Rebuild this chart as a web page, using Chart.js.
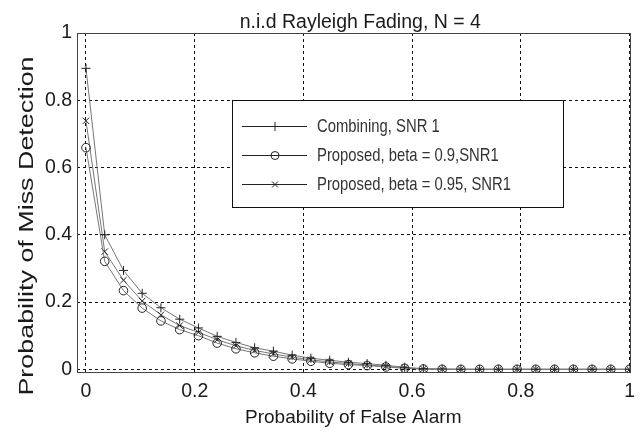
<!DOCTYPE html>
<html>
<head>
<meta charset="utf-8">
<script src="https://cdn.jsdelivr.net/npm/chart.js@4/dist/chart.umd.min.js"></script>
<style>
  html, body { margin: 0; padding: 0; background: #fff; }
  #wrap { width: 643px; height: 432px; }
</style>
</head>
<body>
<div id="wrap"><canvas id="roc" width="643" height="432"></canvas></div>
<script>
// probability of false alarm (x)
const pfa = [0, 0.0345, 0.0690, 0.1034, 0.1379, 0.1724, 0.2069, 0.2414, 0.2759, 0.3103,
             0.3448, 0.3793, 0.4138, 0.4483, 0.4828, 0.5172, 0.5517, 0.5862, 0.6207, 0.6552,
             0.6897, 0.7241, 0.7586, 0.7931, 0.8276, 0.8621, 0.8966, 0.9310, 0.9655, 1];
// probability of miss detection for each curve
const combining = [0.895, 0.400, 0.294, 0.226, 0.183, 0.149, 0.123, 0.098, 0.080, 0.064,
                   0.054, 0.042, 0.033, 0.027, 0.021, 0.017, 0.012, 0.006, 0.002, 0.001,
                   0, 0, 0, 0, 0, 0, 0, 0, 0, 0];
const beta090 = [0.659, 0.321, 0.234, 0.182, 0.144, 0.118, 0.100, 0.078, 0.061, 0.049,
                 0.039, 0.031, 0.024, 0.018, 0.014, 0.011, 0.007, 0.003, 0.001, 0,
                 0, 0, 0, 0, 0, 0, 0, 0, 0, 0];
const beta095 = [0.739, 0.350, 0.265, 0.203, 0.162, 0.130, 0.110, 0.088, 0.070, 0.056,
                 0.046, 0.036, 0.028, 0.022, 0.017, 0.013, 0.009, 0.004, 0.001, 0,
                 0, 0, 0, 0, 0, 0, 0, 0, 0, 0];
const xTicks = [0, 0.2, 0.4, 0.6, 0.8, 1];
const yTicks = [0, 0.2, 0.4, 0.6, 0.8, 1];
const seriesNames = ['Combining, SNR 1', 'Proposed, beta = 0.9,SNR1', 'Proposed, beta = 0.95, SNR1'];
const chartTitle = 'n.i.d Rayleigh Fading, N = 4';
const xTitle = 'Probability of False Alarm';
const yTitle = 'Probability of Miss Detection';

const FONT = '"Liberation Sans", Arial, Helvetica, sans-serif';
const INK = '#1a1a1a';

function pts(ys) {
    return pfa.map((x, i) => ({ x: x, y: ys[i] }));
}

// little marker painter, used only for the legend samples
function marker(ctx, style, x, y) {
    ctx.beginPath();
    if (style === 'cross') {
        ctx.moveTo(x - 4.5, y); ctx.lineTo(x + 4.5, y);
        ctx.moveTo(x, y - 4.5); ctx.lineTo(x, y + 4.5);
    } else if (style === 'crossRot') {
        ctx.moveTo(x - 3, y - 3); ctx.lineTo(x + 3, y + 3);
        ctx.moveTo(x - 3, y + 3); ctx.lineTo(x + 3, y - 3);
    } else {
        ctx.arc(x, y, 4, 0, Math.PI * 2);
    }
    ctx.stroke();
}

const frame = {
    id: 'frame',
    afterDatasetsDraw(chart) {
        const { ctx, chartArea: a } = chart;
        ctx.save();
        ctx.strokeStyle = '#444';
        ctx.lineWidth = 1;
        ctx.strokeRect(Math.round(a.left) + 0.5, Math.round(a.top) + 0.5,
                       Math.round(a.right - a.left), Math.round(a.bottom - a.top));
        ctx.restore();
    }
};

const texts = {
    id: 'texts',
    afterDraw(chart) {
        const { ctx, chartArea: a } = chart;
        ctx.save();
        ctx.fillStyle = INK;
        ctx.font = '19.5px ' + FONT;
        ctx.textAlign = 'center';
        ctx.textBaseline = 'alphabetic';
        ctx.fillText(chartTitle, (a.left + a.right) / 2 + 7, 28);

        // y title, stretched along its length like the original
        ctx.translate(27, 226);
        ctx.rotate(-Math.PI / 2);
        ctx.scale(1.28, 1);
        ctx.font = '21px ' + FONT;
        ctx.textBaseline = 'middle';
        ctx.fillText(yTitle, 0, 0);
        ctx.restore();
    }
};

const legendBox = {
    id: 'legendBox',
    afterDraw(chart) {
        const ctx = chart.ctx;
        ctx.save();
        ctx.fillStyle = '#fff';
        ctx.fillRect(232, 100, 331, 107);
        ctx.strokeStyle = '#111';
        ctx.lineWidth = 1;
        ctx.strokeRect(232.5, 100.5, 331, 107);
        chart.data.datasets.forEach((ds, i) => {
            const y = 126.5 + i * 29;
            ctx.strokeStyle = '#222';
            ctx.beginPath();
            ctx.moveTo(242, y); ctx.lineTo(307, y);
            ctx.stroke();
            marker(ctx, ds.pointStyle, 275, y);
            ctx.save();
            ctx.translate(317, y);
            ctx.scale(0.78, 1);
            ctx.fillStyle = '#333';
            ctx.font = '19px ' + FONT;
            ctx.textBaseline = 'middle';
            ctx.fillText(ds.label, 0, 0);
            ctx.restore();
        });
        ctx.restore();
    }
};

const common = {
    borderColor: '#777',
    borderWidth: 1,
    pointBorderColor: '#222',
    pointBackgroundColor: 'rgba(0,0,0,0)',
    pointBorderWidth: 1,
    tension: 0,
    fill: false
};

new Chart(document.getElementById('roc'), {
    type: 'line',
    data: {
        datasets: [
            Object.assign({ label: seriesNames[0], data: pts(combining), pointStyle: 'cross', pointRadius: 4.5 }, common),
            Object.assign({ label: seriesNames[1], data: pts(beta090), pointStyle: 'circle', pointRadius: 4.3 }, common),
            Object.assign({ label: seriesNames[2], data: pts(beta095), pointStyle: 'crossRot', pointRadius: 4.5 }, common)
        ]
    },
    options: {
        responsive: false,
        animation: false,
        devicePixelRatio: 1,
        layout: { padding: { top: 33, right: 12, bottom: 0, left: 0 } },
        plugins: {
            legend: { display: false },
            title: { display: false },
            tooltip: { enabled: false }
        },
        scales: {
            x: {
                type: 'linear',
                min: -0.0165,
                max: 1,
                afterBuildTicks: s => { s.ticks = xTicks.map(v => ({ value: v })); },
                afterFit: s => { s.height = 60; },
                grid: { color: '#111', lineWidth: 1, drawTicks: false },
                border: { display: false, dash: [3, 3] },
                ticks: {
                    color: INK,
                    padding: 8,
                    maxRotation: 0,
                    font: { family: FONT, size: 19.5 },
                    callback: v => String(+v.toFixed(1))
                },
                title: {
                    display: true,
                    text: xTitle,
                    color: INK,
                    font: { family: FONT, size: 19 },
                    padding: { top: 0, bottom: 3 }
                }
            },
            y: {
                min: -0.008,
                max: 1,
                afterBuildTicks: s => { s.ticks = yTicks.map(v => ({ value: v })); },
                afterFit: s => { s.width = 77; },
                grid: { color: '#111', lineWidth: 1, drawTicks: false },
                border: { display: false, dash: [3, 3] },
                ticks: {
                    color: INK,
                    padding: 5,
                    font: { family: FONT, size: 19.5 },
                    callback: v => String(+v.toFixed(1))
                }
            }
        }
    },
    plugins: [frame, texts, legendBox]
});
</script>
</body>
</html>
